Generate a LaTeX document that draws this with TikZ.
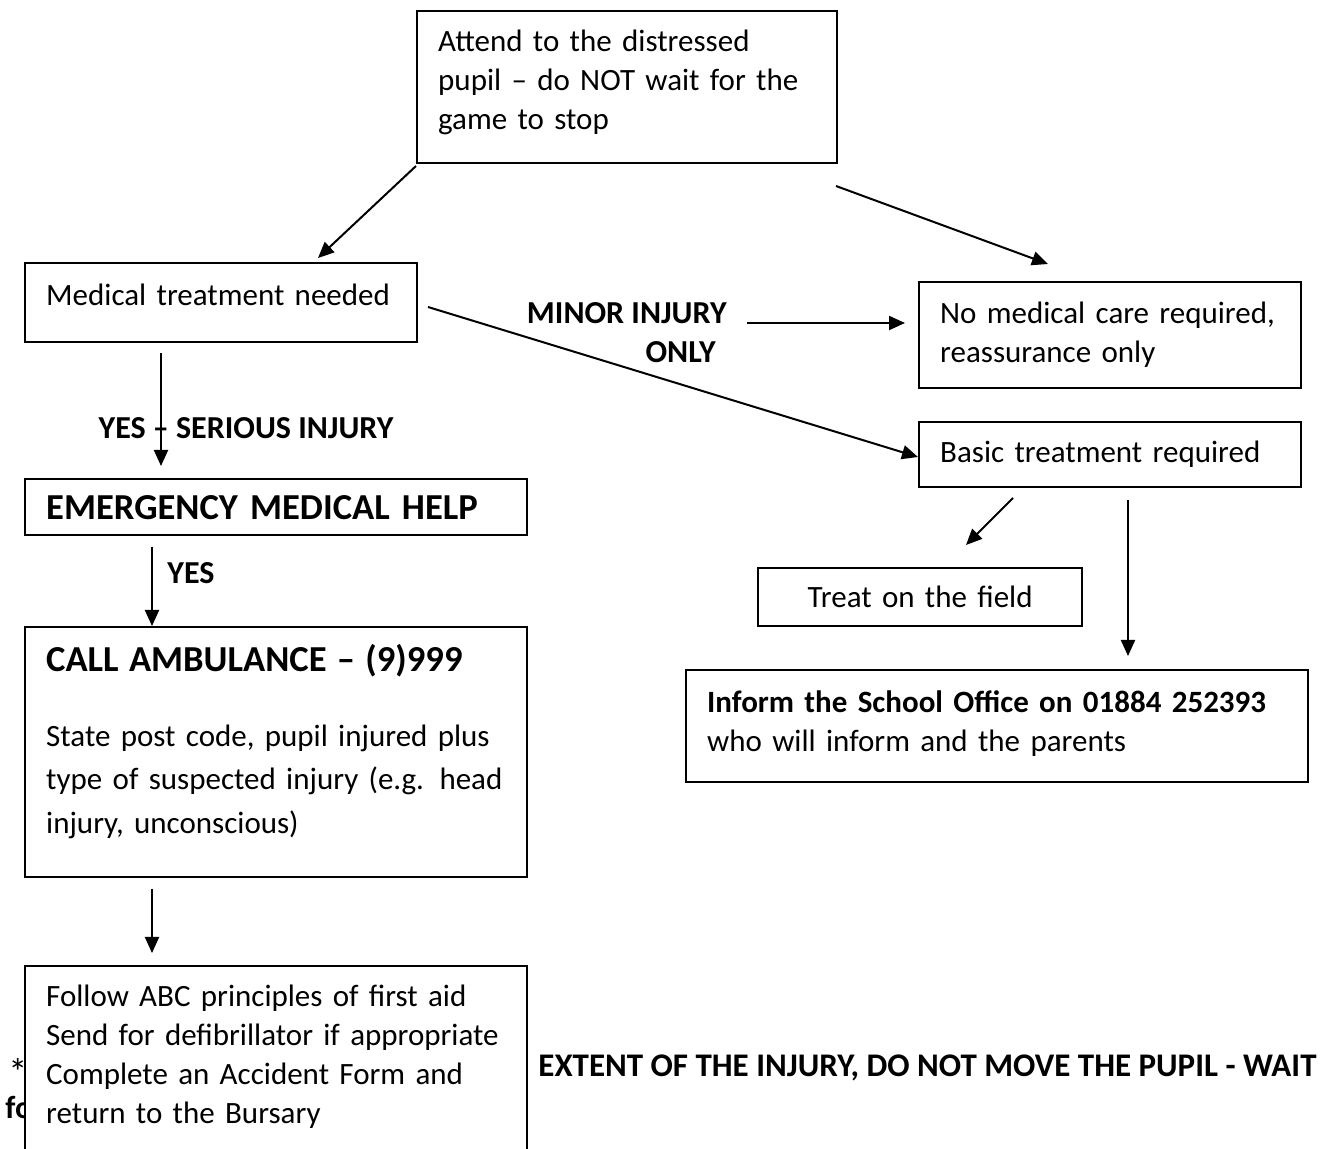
\documentclass[tikz,border=0pt]{standalone}
\usepackage{fontspec}
\setmainfont{Carlito}
\usetikzlibrary{arrows.meta}

\tikzset{
    flowbox/.style = {draw, line width = 1.2pt, anchor = north west, align = left,
        inner xsep = 2pt, inner ysep = 0pt,
        execute at begin node = {\leftskip = 8.5pt\hyphenpenalty = 10000},
        font = \fontsize{15.5pt}{19.5pt}\selectfont},
    flowarrow/.style = {line width = 1pt, -{Triangle[length = 8pt, width = 7pt]}},
    tag/.style = {inner sep = 0pt, font = \fontsize{16pt}{19.5pt}\selectfont\bfseries},
    heading/.style = {font = \fontsize{18.3pt}{22pt}\selectfont\bfseries}
}

\begin{document}
\begin{tikzpicture}[x = 0.5pt, y = -0.5pt]
        \useasboundingbox (0, 0) rectangle (1330, 1149);
        \clip (0, 0) rectangle (1330, 1149);

        % boxes
        \node [flowbox, text width = 206pt, minimum height = 76pt] (attend) at (416, 10)
            {Attend to the distressed\\ pupil -- do NOT wait for the\\ game to stop\\[-12pt]\mbox{}};
        \node [flowbox, text width = 192pt, minimum height = 39.5pt] (medical) at (24, 262)
            {Medical treatment needed\\[-11.5pt]\mbox{}};
        \node [flowbox, text width = 187pt, minimum height = 53pt] (nocare) at (918, 281)
            {No medical care required,\\ reassurance only};
        \node [flowbox, text width = 187pt, minimum height = 32.5pt] (basic) at (918, 421)
            {Basic treatment required};
        \node [flowbox, heading, text width = 247pt, minimum height = 28pt] (emergency) at (24, 478)
            {EMERGENCY MEDICAL HELP};
        \node [flowbox, text width = 247pt, minimum height = 125pt,
               font = \fontsize{15.5pt}{21.75pt}\selectfont] (ambulance) at (24, 626)
            {{\fontsize{18.3pt}{22pt}\selectfont\bfseries CALL AMBULANCE -- (9)999}\\[15.75pt]
             State post code, pupil injured plus\\ type of suspected injury (e.g. head\\ injury, unconscious)\\[-8pt]\mbox{}};
        \node [flowbox, text width = 158pt, minimum height = 29pt, align = center,
               execute at begin node = {\leftskip = 0pt plus 1fil\rightskip = 0pt plus 1fil\parfillskip = 0pt}] (field) at (757, 567)
            {Treat on the field};
        \node [flowbox, text width = 307pt, minimum height = 56pt] (office) at (685, 669)
            {\textbf{Inform the School Office on 01884 252393}\\ who will inform and the parents\\[-14.5pt]\mbox{}};

        % labels
        \node [tag] (serious) at (246, 428) {YES -- SERIOUS INJURY};
        \node [tag, anchor = east, align = right] (minor) at (727, 333)
            {MINOR INJURY\\ ONLY\hspace*{5.5pt}};
        \node [tag, anchor = west] (yes) at (167, 573) {YES};

        % note line, partly hidden
        \node [tag, anchor = west, font = \fontsize{19pt}{20pt}\selectfont] (star) at (8, 1072) {*};
        \node [tag, anchor = west] (fo) at (5, 1108) {fo};
        \node [tag, anchor = west, font = \fontsize{16.5pt}{19.5pt}\selectfont\bfseries] (extent) at (538, 1068)
            {EXTENT OF THE INJURY, DO NOT MOVE THE PUPIL - WAIT};

        \node [flowbox, text width = 247pt, inner ysep = 9.5pt, text depth = 80pt, fill = white] (abc) at (24, 965)
            {Follow ABC principles of first aid\\ Send for defibrillator if appropriate\\
             Complete an Accident Form and\\ return to the Bursary};

        % arrow ends
        \coordinate (a1) at (416, 166);  \coordinate (b1) at (318, 258);
        \coordinate (a2) at (836, 186);  \coordinate (b2) at (1048, 264);
        \coordinate (a3) at (161, 353);  \coordinate (b3) at (161, 466);
        \coordinate (a4) at (428, 307);  \coordinate (b4) at (918, 457);
        \coordinate (a5) at (747, 323);  \coordinate (b5) at (905, 323);
        \coordinate (a6) at (152, 547);  \coordinate (b6) at (152, 626);
        \coordinate (a7) at (152, 889);  \coordinate (b7) at (152, 953);
        \coordinate (a8) at (1013, 498); \coordinate (b8) at (966, 545);
        \coordinate (a9) at (1128, 500); \coordinate (b9) at (1128, 656);

        \foreach \i in {1, ..., 9} {
            \draw [flowarrow] (a\i) -- (b\i);
        }
    \end{tikzpicture}
\end{document}
